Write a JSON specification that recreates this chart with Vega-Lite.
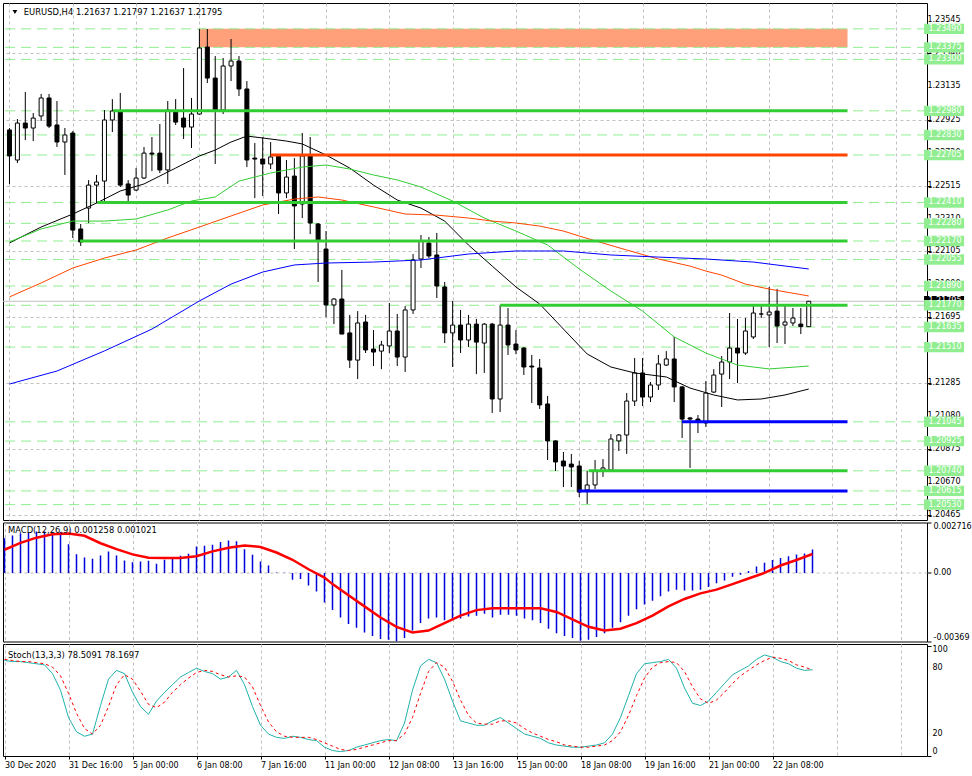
{
"$schema":"https://vega.github.io/schema/vega-lite/v6.json",
"background":"white",
"padding":{"left":2,"top":2,"right":0,"bottom":0},
"spacing":2.5,
"bounds":"flush",
"config":{"view":{"stroke":"black","strokeWidth":1},"axis":{"labelFont":"DejaVu Sans","labelFontSize":8,"labelColor":"black"},"text":{"font":"DejaVu Sans","fontSize":8}},
"datasets":{
"candles":[
{"i":0,"o":1.22861,"h":1.22873,"l":1.22525,"c":1.22699},
{"i":1,"o":1.22674,"h":1.22929,"l":1.22655,"c":1.22904},
{"i":2,"o":1.22904,"h":1.23097,"l":1.22798,"c":1.22873},
{"i":3,"o":1.22873,"h":1.22966,"l":1.22792,"c":1.22935},
{"i":4,"o":1.22948,"h":1.23085,"l":1.22917,"c":1.2306},
{"i":5,"o":1.2306,"h":1.23085,"l":1.22873,"c":1.22885},
{"i":6,"o":1.22892,"h":1.23041,"l":1.22755,"c":1.22786},
{"i":7,"o":1.22786,"h":1.22873,"l":1.22581,"c":1.2283},
{"i":8,"o":1.22842,"h":1.22854,"l":1.22189,"c":1.22238},
{"i":9,"o":1.22245,"h":1.22276,"l":1.22139,"c":1.22164},
{"i":10,"o":1.22375,"h":1.22549,"l":1.22282,"c":1.22518},
{"i":11,"o":1.22518,"h":1.22581,"l":1.22406,"c":1.22537},
{"i":12,"o":1.22543,"h":1.22985,"l":1.22406,"c":1.22923},
{"i":13,"o":1.22923,"h":1.23053,"l":1.22848,"c":1.22979},
{"i":14,"o":1.22979,"h":1.23091,"l":1.22506,"c":1.22518},
{"i":15,"o":1.22525,"h":1.22549,"l":1.224,"c":1.22456},
{"i":16,"o":1.22487,"h":1.22624,"l":1.22481,"c":1.22562},
{"i":17,"o":1.22562,"h":1.22755,"l":1.22556,"c":1.22717},
{"i":18,"o":1.22717,"h":1.22817,"l":1.22605,"c":1.22711},
{"i":19,"o":1.22717,"h":1.22898,"l":1.22593,"c":1.22612},
{"i":20,"o":1.22612,"h":1.23041,"l":1.22525,"c":1.22985},
{"i":21,"o":1.22979,"h":1.23053,"l":1.22892,"c":1.2291},
{"i":22,"o":1.22935,"h":1.23246,"l":1.22805,"c":1.22879},
{"i":23,"o":1.22879,"h":1.2306,"l":1.22749,"c":1.2296},
{"i":24,"o":1.2296,"h":1.23489,"l":1.22955,"c":1.23371},
{"i":25,"o":1.23377,"h":1.23489,"l":1.23153,"c":1.23184},
{"i":26,"o":1.23184,"h":1.23321,"l":1.22649,"c":1.22985},
{"i":27,"o":1.22985,"h":1.23309,"l":1.2296,"c":1.23259},
{"i":28,"o":1.23259,"h":1.23427,"l":1.23165,"c":1.2329},
{"i":29,"o":1.2329,"h":1.23321,"l":1.23072,"c":1.23116},
{"i":30,"o":1.23116,"h":1.23165,"l":1.2263,"c":1.22674},
{"i":31,"o":1.22686,"h":1.2278,"l":1.22437,"c":1.2268},
{"i":32,"o":1.2268,"h":1.22817,"l":1.2245,"c":1.22649},
{"i":33,"o":1.22649,"h":1.22786,"l":1.22618,"c":1.22693},
{"i":34,"o":1.22699,"h":1.22705,"l":1.22338,"c":1.22469},
{"i":35,"o":1.22469,"h":1.22674,"l":1.22437,"c":1.22568},
{"i":36,"o":1.22574,"h":1.22686,"l":1.2212,"c":1.22388},
{"i":37,"o":1.224,"h":1.22842,"l":1.22313,"c":1.22699},
{"i":38,"o":1.22699,"h":1.22817,"l":1.22213,"c":1.22282},
{"i":39,"o":1.22276,"h":1.22282,"l":1.21915,"c":1.22176},
{"i":40,"o":1.2212,"h":1.22232,"l":1.21697,"c":1.21772},
{"i":41,"o":1.21772,"h":1.21815,"l":1.21653,"c":1.21809},
{"i":42,"o":1.21809,"h":1.2199,"l":1.21591,"c":1.21591},
{"i":43,"o":1.21598,"h":1.2171,"l":1.2138,"c":1.21429},
{"i":44,"o":1.21429,"h":1.21734,"l":1.21311,"c":1.2166},
{"i":45,"o":1.21666,"h":1.2171,"l":1.21473,"c":1.21492},
{"i":46,"o":1.21498,"h":1.21616,"l":1.21392,"c":1.21479},
{"i":47,"o":1.21485,"h":1.21548,"l":1.21373,"c":1.21523},
{"i":48,"o":1.21517,"h":1.21784,"l":1.21473,"c":1.2161},
{"i":49,"o":1.2161,"h":1.21716,"l":1.21392,"c":1.21448},
{"i":50,"o":1.21448,"h":1.21765,"l":1.21355,"c":1.21741},
{"i":51,"o":1.21741,"h":1.22089,"l":1.21716,"c":1.22052},
{"i":52,"o":1.22058,"h":1.22207,"l":1.22002,"c":1.2217},
{"i":53,"o":1.22157,"h":1.22195,"l":1.22064,"c":1.22077},
{"i":54,"o":1.22083,"h":1.2222,"l":1.21815,"c":1.2189},
{"i":55,"o":1.21884,"h":1.21915,"l":1.21535,"c":1.21598},
{"i":56,"o":1.21598,"h":1.21797,"l":1.21386,"c":1.21647},
{"i":57,"o":1.21647,"h":1.21741,"l":1.21473,"c":1.21554},
{"i":58,"o":1.21554,"h":1.2171,"l":1.2151,"c":1.21653},
{"i":59,"o":1.21653,"h":1.21685,"l":1.21342,"c":1.21541},
{"i":60,"o":1.21535,"h":1.2166,"l":1.21349,"c":1.21653},
{"i":61,"o":1.21653,"h":1.2166,"l":1.211,"c":1.21187},
{"i":62,"o":1.21187,"h":1.21772,"l":1.21106,"c":1.21647},
{"i":63,"o":1.21647,"h":1.21753,"l":1.21461,"c":1.21523},
{"i":64,"o":1.21529,"h":1.21616,"l":1.21467,"c":1.21492},
{"i":65,"o":1.21504,"h":1.2151,"l":1.21336,"c":1.21386},
{"i":66,"o":1.21392,"h":1.21461,"l":1.21162,"c":1.21386},
{"i":67,"o":1.2138,"h":1.21436,"l":1.21125,"c":1.2115},
{"i":68,"o":1.21156,"h":1.21206,"l":1.20807,"c":1.20926},
{"i":69,"o":1.20926,"h":1.2093,"l":1.20739,"c":1.20795},
{"i":70,"o":1.20801,"h":1.20857,"l":1.20639,"c":1.2077},
{"i":71,"o":1.20782,"h":1.20845,"l":1.20639,"c":1.20764},
{"i":72,"o":1.2077,"h":1.20801,"l":1.20577,"c":1.20608},
{"i":73,"o":1.20621,"h":1.20739,"l":1.20534,"c":1.20652},
{"i":74,"o":1.20652,"h":1.20807,"l":1.20627,"c":1.20739},
{"i":75,"o":1.20739,"h":1.20813,"l":1.20702,"c":1.20758},
{"i":76,"o":1.20745,"h":1.20969,"l":1.20739,"c":1.20938},
{"i":77,"o":1.20926,"h":1.20969,"l":1.20863,"c":1.20963},
{"i":78,"o":1.20963,"h":1.21224,"l":1.20845,"c":1.21174},
{"i":79,"o":1.21174,"h":1.21442,"l":1.21143,"c":1.21349},
{"i":80,"o":1.21349,"h":1.21442,"l":1.21143,"c":1.21199},
{"i":81,"o":1.21199,"h":1.21293,"l":1.21168,"c":1.21274},
{"i":82,"o":1.21274,"h":1.21461,"l":1.21243,"c":1.21405},
{"i":83,"o":1.21398,"h":1.21485,"l":1.21392,"c":1.21436},
{"i":84,"o":1.21436,"h":1.21573,"l":1.21168,"c":1.21262},
{"i":85,"o":1.21262,"h":1.21268,"l":1.20944,"c":1.21062},
{"i":86,"o":1.21069,"h":1.21075,"l":1.20758,"c":1.21062},
{"i":87,"o":1.21062,"h":1.21087,"l":1.20975,"c":1.2105},
{"i":88,"o":1.21038,"h":1.21299,"l":1.21013,"c":1.21224},
{"i":89,"o":1.2123,"h":1.21373,"l":1.21224,"c":1.21336},
{"i":90,"o":1.21342,"h":1.21454,"l":1.21137,"c":1.21417},
{"i":91,"o":1.21417,"h":1.21722,"l":1.21311,"c":1.21504},
{"i":92,"o":1.21504,"h":1.21685,"l":1.21286,"c":1.21473},
{"i":93,"o":1.21473,"h":1.21691,"l":1.21461,"c":1.2161},
{"i":94,"o":1.21573,"h":1.21772,"l":1.2156,"c":1.21722},
{"i":95,"o":1.21716,"h":1.21772,"l":1.21691,"c":1.21716},
{"i":96,"o":1.2171,"h":1.21884,"l":1.2151,"c":1.21728},
{"i":97,"o":1.21734,"h":1.21872,"l":1.21535,"c":1.21641},
{"i":98,"o":1.21647,"h":1.21778,"l":1.21529,"c":1.21666},
{"i":99,"o":1.2166,"h":1.21753,"l":1.21641,"c":1.21691},
{"i":100,"o":1.21653,"h":1.21753,"l":1.21591,"c":1.21637},
{"i":101,"o":1.21637,"h":1.21797,"l":1.21637,"c":1.21795}
],
"ma":[
{"i":0,"s":"ma1","v":1.22158},{"i":4,"s":"ma1","v":1.22257},{"i":8,"s":"ma1","v":1.22338},{"i":11,"s":"ma1","v":1.22406},{"i":14,"s":"ma1","v":1.22481},{"i":17,"s":"ma1","v":1.22525},{"i":21,"s":"ma1","v":1.22624},{"i":24,"s":"ma1","v":1.22699},{"i":26,"s":"ma1","v":1.22736},{"i":28,"s":"ma1","v":1.22786},{"i":30,"s":"ma1","v":1.22823},{"i":32,"s":"ma1","v":1.22811},{"i":35,"s":"ma1","v":1.22792},{"i":37,"s":"ma1","v":1.22774},{"i":40,"s":"ma1","v":1.22705},{"i":43,"s":"ma1","v":1.22624},{"i":46,"s":"ma1","v":1.22518},{"i":49,"s":"ma1","v":1.22425},{"i":52,"s":"ma1","v":1.22375},{"i":55,"s":"ma1","v":1.22294},{"i":58,"s":"ma1","v":1.22145},{"i":61,"s":"ma1","v":1.22014},{"i":64,"s":"ma1","v":1.21884},{"i":67,"s":"ma1","v":1.21778},{"i":70,"s":"ma1","v":1.21622},{"i":73,"s":"ma1","v":1.21467},{"i":76,"s":"ma1","v":1.21386},{"i":79,"s":"ma1","v":1.21349},{"i":83,"s":"ma1","v":1.21324},{"i":86,"s":"ma1","v":1.21255},{"i":89,"s":"ma1","v":1.21212},{"i":92,"s":"ma1","v":1.21181},{"i":95,"s":"ma1","v":1.21187},{"i":98,"s":"ma1","v":1.21212},{"i":101,"s":"ma1","v":1.21249},
{"i":0,"s":"ma2","v":1.22164},{"i":4,"s":"ma2","v":1.22245},{"i":8,"s":"ma2","v":1.22294},{"i":12,"s":"ma2","v":1.22294},{"i":16,"s":"ma2","v":1.22307},{"i":20,"s":"ma2","v":1.22363},{"i":23,"s":"ma2","v":1.22419},{"i":26,"s":"ma2","v":1.22444},{"i":29,"s":"ma2","v":1.22543},{"i":33,"s":"ma2","v":1.22593},{"i":37,"s":"ma2","v":1.2263},{"i":40,"s":"ma2","v":1.22643},{"i":43,"s":"ma2","v":1.22618},{"i":46,"s":"ma2","v":1.22581},{"i":49,"s":"ma2","v":1.2255},{"i":52,"s":"ma2","v":1.22506},{"i":56,"s":"ma2","v":1.22419},{"i":60,"s":"ma2","v":1.22313},{"i":64,"s":"ma2","v":1.22232},{"i":68,"s":"ma2","v":1.22145},{"i":72,"s":"ma2","v":1.21996},{"i":76,"s":"ma2","v":1.21859},{"i":80,"s":"ma2","v":1.21734},{"i":84,"s":"ma2","v":1.21573},{"i":88,"s":"ma2","v":1.21473},{"i":92,"s":"ma2","v":1.21398},{"i":96,"s":"ma2","v":1.21374},{"i":101,"s":"ma2","v":1.21392},
{"i":0,"s":"ma3","v":1.21822},{"i":4,"s":"ma3","v":1.21909},{"i":8,"s":"ma3","v":1.22002},{"i":12,"s":"ma3","v":1.22064},{"i":16,"s":"ma3","v":1.22114},{"i":20,"s":"ma3","v":1.22189},{"i":24,"s":"ma3","v":1.22257},{"i":28,"s":"ma3","v":1.22326},{"i":32,"s":"ma3","v":1.22394},{"i":36,"s":"ma3","v":1.22431},{"i":39,"s":"ma3","v":1.22444},{"i":42,"s":"ma3","v":1.22425},{"i":46,"s":"ma3","v":1.22382},{"i":50,"s":"ma3","v":1.22338},{"i":54,"s":"ma3","v":1.22331},{"i":58,"s":"ma3","v":1.22313},{"i":61,"s":"ma3","v":1.22294},{"i":64,"s":"ma3","v":1.22282},{"i":67,"s":"ma3","v":1.22263},{"i":70,"s":"ma3","v":1.22232},{"i":72,"s":"ma3","v":1.22201},{"i":75,"s":"ma3","v":1.22157},{"i":78,"s":"ma3","v":1.22114},{"i":82,"s":"ma3","v":1.22058},{"i":86,"s":"ma3","v":1.22014},{"i":88,"s":"ma3","v":1.21983},{"i":90,"s":"ma3","v":1.21958},{"i":93,"s":"ma3","v":1.21902},{"i":96,"s":"ma3","v":1.21871},{"i":101,"s":"ma3","v":1.21828},
{"i":0,"s":"ma4","v":1.2128},{"i":6,"s":"ma4","v":1.21361},{"i":12,"s":"ma4","v":1.21486},{"i":18,"s":"ma4","v":1.21622},{"i":24,"s":"ma4","v":1.21797},{"i":28,"s":"ma4","v":1.21902},{"i":32,"s":"ma4","v":1.21977},{"i":36,"s":"ma4","v":1.22021},{"i":40,"s":"ma4","v":1.22033},{"i":46,"s":"ma4","v":1.22039},{"i":52,"s":"ma4","v":1.22052},{"i":58,"s":"ma4","v":1.22089},{"i":64,"s":"ma4","v":1.22108},{"i":70,"s":"ma4","v":1.22108},{"i":76,"s":"ma4","v":1.22083},{"i":82,"s":"ma4","v":1.2207},{"i":88,"s":"ma4","v":1.22058},{"i":94,"s":"ma4","v":1.22039},{"i":101,"s":"ma4","v":1.21996}
],
"ticks":[{"t":1.23545},{"t":1.2334},{"t":1.23135},{"t":1.22925},{"t":1.2272},{"t":1.22515},{"t":1.2231},{"t":1.22105},{"t":1.219},{"t":1.21695},{"t":1.2149},{"t":1.21285},{"t":1.2108},{"t":1.20875},{"t":1.2067},{"t":1.20465}],
"levels":[{"p":1.2349},{"p":1.23375},{"p":1.233},{"p":1.2298},{"p":1.2283},{"p":1.22705},{"p":1.2241},{"p":1.2228},{"p":1.2217},{"p":1.22055},{"p":1.2189},{"p":1.2177},{"p":1.21635},{"p":1.2151},{"p":1.21045},{"p":1.20925},{"p":1.2074},{"p":1.20615},{"p":1.2053}],
"trend":[{"a":13.1,"b":105.9,"p":1.2298,"g":"A"},{"a":33,"b":105.9,"p":1.22705,"g":"B"},{"a":11.1,"b":105.9,"p":1.2241,"g":"A"},{"a":8.9,"b":105.9,"p":1.2217,"g":"A"},{"a":62,"b":105.9,"p":1.2177,"g":"A"},{"a":85,"b":105.9,"p":1.21045,"g":"C"},{"a":73.2,"b":105.9,"p":1.2074,"g":"A"},{"a":71.9,"b":105.9,"p":1.20615,"g":"C"}],
"zone":[{"a":24,"b":105.9,"p0":1.23375,"p1":1.2349}],
"macd":[
{"i":0,"m":0.00187},{"i":1,"m":0.00202},{"i":2,"m":0.00214},{"i":3,"m":0.00218},{"i":4,"m":0.00223},{"i":5,"m":0.00223},{"i":6,"m":0.00221},{"i":7,"m":0.00221},{"i":8,"m":0.00155},{"i":9,"m":0.00101},{"i":10,"m":0.00083},{"i":11,"m":0.00076},{"i":12,"m":0.00094},{"i":13,"m":0.00116},{"i":14,"m":0.00094},{"i":15,"m":0.00067},{"i":16,"m":0.00058},{"i":17,"m":0.00062},{"i":18,"m":0.00066},{"i":19,"m":0.0005},{"i":20,"m":0.00071},{"i":21,"m":0.00085},{"i":22,"m":0.00093},{"i":23,"m":0.00103},{"i":24,"m":0.00143},{"i":25,"m":0.00146},{"i":26,"m":0.00152},{"i":27,"m":0.00166},{"i":28,"m":0.00175},{"i":29,"m":0.0017},{"i":30,"m":0.00128},{"i":31,"m":0.00098},{"i":32,"m":0.00062},{"i":33,"m":0.0004},{"i":34,"m":0.00003},{"i":35,"m":0.00001},{"i":36,"m":-0.00037},{"i":37,"m":-0.00033},{"i":38,"m":-0.00067},{"i":39,"m":-0.001},{"i":40,"m":-0.00159},
{"i":41,"m":-0.002},{"i":42,"m":-0.0024},{"i":43,"m":-0.00275},{"i":44,"m":-0.00295},{"i":45,"m":-0.0032},{"i":46,"m":-0.0034},{"i":47,"m":-0.00355},{"i":48,"m":-0.0036},{"i":49,"m":-0.00369},{"i":50,"m":-0.0035},{"i":51,"m":-0.0031},{"i":52,"m":-0.0027},{"i":53,"m":-0.00245},{"i":54,"m":-0.0024},{"i":55,"m":-0.00255},{"i":56,"m":-0.0025},{"i":57,"m":-0.00245},{"i":58,"m":-0.00235},{"i":59,"m":-0.0023},{"i":60,"m":-0.0022},{"i":61,"m":-0.0024},{"i":62,"m":-0.00225},{"i":63,"m":-0.00225},{"i":64,"m":-0.0023},{"i":65,"m":-0.00245},{"i":66,"m":-0.00255},{"i":67,"m":-0.0027},{"i":68,"m":-0.003},{"i":69,"m":-0.00325},{"i":70,"m":-0.0034},{"i":71,"m":-0.0035},{"i":72,"m":-0.00365},{"i":73,"m":-0.0036},{"i":74,"m":-0.00345},{"i":75,"m":-0.00325},{"i":76,"m":-0.00295},{"i":77,"m":-0.00265},{"i":78,"m":-0.0023},{"i":79,"m":-0.00195},{"i":80,"m":-0.0017},{"i":81,"m":-0.0015},{"i":82,"m":-0.00125},{"i":83,"m":-0.001},{"i":84,"m":-0.0009},{"i":85,"m":-0.00095},{"i":86,"m":-0.00095},{"i":87,"m":-0.0009},{"i":88,"m":-0.00075},{"i":89,"m":-0.00055},{"i":90,"m":-0.0004},{"i":91,"m":-0.0002},{"i":92,"m":-0.0001},{"i":93,"m":0.0001},{"i":94,"m":0.00035},{"i":95,"m":0.00055},{"i":96,"m":0.0007},{"i":97,"m":0.0008},{"i":98,"m":0.0009},{"i":99,"m":0.001},{"i":100,"m":0.00105},{"i":101,"m":0.001258}
],
"signal":[
{"i":0,"v":0.00125},{"i":2,"v":0.00162},{"i":4,"v":0.0019},{"i":6,"v":0.00208},{"i":8,"v":0.00212},{"i":10,"v":0.002},{"i":12,"v":0.0016},{"i":14,"v":0.00128},{"i":16,"v":0.001},{"i":18,"v":0.00082},{"i":20,"v":0.0008},{"i":22,"v":0.0008},{"i":24,"v":0.0009},{"i":26,"v":0.00116},{"i":28,"v":0.00136},{"i":30,"v":0.00148},{"i":32,"v":0.0014},{"i":34,"v":0.0011},{"i":36,"v":0.00071},{"i":38,"v":0.0002},{"i":40,"v":-0.00025},{"i":41,"v":-0.0006},{"i":43,"v":-0.0012},{"i":45,"v":-0.0018},{"i":47,"v":-0.0024},{"i":49,"v":-0.0029},{"i":51,"v":-0.0032},{"i":53,"v":-0.0031},{"i":55,"v":-0.0027},{"i":57,"v":-0.0023},{"i":59,"v":-0.002},{"i":61,"v":-0.0019},{"i":63,"v":-0.0019},{"i":65,"v":-0.0019},{"i":67,"v":-0.0019},{"i":69,"v":-0.0021},{"i":71,"v":-0.0025},{"i":73,"v":-0.0029},{"i":75,"v":-0.0031},{"i":77,"v":-0.003},{"i":79,"v":-0.0027},{"i":81,"v":-0.0023},{"i":83,"v":-0.0018},{"i":85,"v":-0.0014},{"i":87,"v":-0.0011},{"i":89,"v":-0.0009},{"i":91,"v":-0.0006},{"i":93,"v":-0.0003},{"i":95,"v":0},{"i":97,"v":0.0004},{"i":99,"v":0.0007},{"i":101,"v":0.00102}
],
"stoch":[
{"i":0,"k":87,"d":88},{"i":1,"k":86,"d":87},{"i":2,"k":86,"d":86},{"i":3,"k":85,"d":86},{"i":4,"k":84,"d":85},{"i":5,"k":83,"d":84},{"i":6,"k":75,"d":81},{"i":7,"k":60,"d":73},{"i":8,"k":35,"d":57},{"i":9,"k":22,"d":39},{"i":10,"k":18,"d":25},{"i":11,"k":20,"d":20},{"i":12,"k":46,"d":28},{"i":13,"k":70,"d":45},{"i":14,"k":78,"d":65},{"i":15,"k":75,"d":74},{"i":16,"k":58,"d":70},{"i":17,"k":45,"d":59},{"i":18,"k":38,"d":47},{"i":19,"k":50,"d":44},{"i":20,"k":58,"d":49},{"i":21,"k":65,"d":58},{"i":22,"k":72,"d":65},{"i":23,"k":76,"d":71},{"i":24,"k":80,"d":76},{"i":25,"k":77,"d":78},{"i":26,"k":75,"d":77},{"i":27,"k":70,"d":74},{"i":28,"k":72,"d":72},{"i":29,"k":78,"d":73},{"i":30,"k":65,"d":72},{"i":31,"k":45,"d":63},{"i":32,"k":28,"d":46},{"i":33,"k":20,"d":31},{"i":34,"k":17,"d":22},{"i":35,"k":16,"d":18},{"i":36,"k":18,"d":17},{"i":37,"k":17,"d":17},{"i":38,"k":15,"d":17},{"i":39,"k":14,"d":15},{"i":40,"k":8,"d":12},{"i":41,"k":5,"d":9},{"i":42,"k":4,"d":6},{"i":43,"k":5,"d":5},{"i":44,"k":8,"d":6},{"i":45,"k":10,"d":8},{"i":46,"k":12,"d":10},{"i":47,"k":14,"d":12},{"i":48,"k":15,"d":14},{"i":49,"k":14,"d":14},{"i":50,"k":30,"d":20},{"i":51,"k":60,"d":35},{"i":52,"k":82,"d":57},{"i":53,"k":88,"d":77},{"i":54,"k":85,"d":85},{"i":55,"k":70,"d":81},{"i":56,"k":50,"d":68},{"i":57,"k":32,"d":51},{"i":58,"k":30,"d":37},{"i":59,"k":28,"d":30},{"i":60,"k":28,"d":29},{"i":61,"k":32,"d":29},{"i":62,"k":35,"d":32},{"i":63,"k":30,"d":32},{"i":64,"k":25,"d":30},{"i":65,"k":20,"d":25},{"i":66,"k":18,"d":21},{"i":67,"k":16,"d":18},{"i":68,"k":12,"d":15},{"i":69,"k":10,"d":13},{"i":70,"k":9,"d":10},{"i":71,"k":8,"d":9},{"i":72,"k":8,"d":8},{"i":73,"k":9,"d":8},{"i":74,"k":10,"d":9},{"i":75,"k":12,"d":10},{"i":76,"k":20,"d":14},{"i":77,"k":35,"d":22},{"i":78,"k":55,"d":37},{"i":79,"k":75,"d":55},{"i":80,"k":84,"d":71},{"i":81,"k":85,"d":81},{"i":82,"k":86,"d":85},{"i":83,"k":88,"d":86},{"i":84,"k":80,"d":85},{"i":85,"k":62,"d":77},{"i":86,"k":48,"d":63},{"i":87,"k":46,"d":52},{"i":88,"k":50,"d":48},{"i":89,"k":58,"d":51},{"i":90,"k":66,"d":58},{"i":91,"k":74,"d":66},{"i":92,"k":78,"d":73},{"i":93,"k":82,"d":78},{"i":94,"k":88,"d":83},{"i":95,"k":92,"d":87},{"i":96,"k":90,"d":90},{"i":97,"k":86,"d":89},{"i":98,"k":84,"d":87},{"i":99,"k":80,"d":83},{"i":100,"k":78,"d":81},{"i":101,"k":78.5,"d":78.2}
]
},
"vconcat":[
{
"width":924,"height":517,
"resolve":{"scale":{"color":"independent"}},
"layer":[
{"data":{"name":"zone"},"mark":{"type":"rect","color":"#ffa07a","clip":true},
"encoding":{
"x":{"field":"a","type":"quantitative","scale":{"domain":[-0.1875,115.3125],"nice":false,"zero":false},"axis":{"orient":"bottom","title":null,"values":[0,4,8,12,16,20,24,28,32,36,40,44,48,52,56,60,64,68,72,76,80,84,88,92,96,100,104,108,112],"labels":false,"ticks":false,"domain":false,"grid":true,"gridColor":"#c0c0c0","gridDash":[3,3]}},
"x2":{"field":"b"},
"y":{"field":"p0","type":"quantitative","scale":{"domain":[1.20434,1.23651],"nice":false,"zero":false},"axis":{"orient":"right","title":null,"values":[1.23545,1.2334,1.23135,1.22925,1.2272,1.22515,1.2231,1.22105,1.219,1.21695,1.2149,1.21285,1.2108,1.20875,1.2067,1.20465],"labels":false,"grid":true,"gridColor":"#c0c0c0","gridDash":[3,3],"domain":false,"tickColor":"black","tickSize":4}},
"y2":{"field":"p1"}}},
{"data":{"name":"levels"},"mark":{"type":"rule","color":"#90ee90","strokeDash":[10,6],"strokeWidth":1},"encoding":{"y":{"field":"p","type":"quantitative"}}},
{"data":{"values":[{"p":1.21795}]},"mark":{"type":"rule","color":"#c0c0c0","strokeWidth":1},"encoding":{"y":{"field":"p","type":"quantitative"}}},
{"data":{"name":"candles"},"mark":{"type":"rule","color":"black","strokeWidth":1,"clip":true},"encoding":{"x":{"field":"i","type":"quantitative"},"y":{"field":"l","type":"quantitative"},"y2":{"field":"h"}}},
{"data":{"name":"candles"},"mark":{"type":"bar","size":4,"stroke":"black","strokeWidth":1,"clip":true},"encoding":{"x":{"field":"i","type":"quantitative"},"y":{"field":"o","type":"quantitative"},"y2":{"field":"c"},"fill":{"condition":{"test":"datum.c >= datum.o","value":"white"},"value":"black"}}},
{"data":{"name":"ma"},"mark":{"type":"line","strokeWidth":1,"clip":true},"encoding":{"x":{"field":"i","type":"quantitative"},"y":{"field":"v","type":"quantitative"},"color":{"field":"s","type":"nominal","scale":{"domain":["ma1","ma2","ma3","ma4"],"range":["black","#32cd32","#ff4500","#0000ff"]},"legend":null}}},
{"data":{"name":"trend"},"mark":{"type":"rule","strokeWidth":3,"clip":true},"encoding":{"x":{"field":"a","type":"quantitative"},"x2":{"field":"b"},"y":{"field":"p","type":"quantitative"},"color":{"field":"g","type":"nominal","scale":{"domain":["A","B","C"],"range":["#32cd32","#ff4500","#0000ff"]},"legend":null}}},
{"data":{"values":[{}]},"mark":{"type":"point","shape":"triangle-down","filled":true,"color":"black","size":22,"opacity":1},"encoding":{"x":{"datum":0.6875,"type":"quantitative"},"y":{"datum":1.23595,"type":"quantitative"}}},
{"data":{"values":[{}]},"mark":{"type":"text","align":"left","baseline":"middle","fontSize":8.4,"color":"black"},"encoding":{"x":{"datum":1.8125,"type":"quantitative"},"y":{"datum":1.23595,"type":"quantitative"},"text":{"value":"EURUSD,H4  1.21637 1.21797 1.21637 1.21795"}}},
{"data":{"name":"ticks"},"mark":{"type":"text","align":"left","baseline":"middle","color":"black","clip":false},"encoding":{"x":{"datum":116.0,"type":"quantitative"},"y":{"field":"t","type":"quantitative"},"text":{"field":"t","format":".5f"}}},
{"data":{"values":[{"p":1.21795}]},"mark":{"type":"point","shape":"M-1,-0.26H1V0.26H-1Z","size":1600,"filled":true,"color":"black","opacity":1,"clip":false},"encoding":{"x":{"datum":118.1,"type":"quantitative"},"y":{"field":"p","type":"quantitative"}}},
{"data":{"values":[{"p":1.21795}]},"mark":{"type":"text","align":"left","baseline":"middle","color":"white","clip":false},"encoding":{"x":{"datum":116.125,"type":"quantitative"},"y":{"field":"p","type":"quantitative"},"text":{"field":"p","format":".5f"}}},
{"data":{"name":"levels"},"mark":{"type":"point","shape":"M-1,-0.26H1V0.26H-1Z","size":1600,"filled":true,"color":"#90ee90","opacity":1,"clip":false},"encoding":{"x":{"datum":118.1,"type":"quantitative"},"y":{"field":"p","type":"quantitative"}}},
{"data":{"name":"levels"},"mark":{"type":"text","align":"left","baseline":"middle","color":"white","clip":false},"encoding":{"x":{"datum":116.125,"type":"quantitative"},"y":{"field":"p","type":"quantitative"},"text":{"field":"p","format":".5f"}}}
]
},
{
"width":924,"height":119,
"layer":[
{"data":{"name":"macd"},"mark":{"type":"rule","color":"#0000dd","strokeWidth":1.5,"clip":true},
"encoding":{
"x":{"field":"i","type":"quantitative","scale":{"domain":[-0.1875,115.3125],"nice":false,"zero":false},"axis":{"orient":"bottom","title":null,"values":[0,4,8,12,16,20,24,28,32,36,40,44,48,52,56,60,64,68,72,76,80,84,88,92,96,100,104,108,112],"labels":false,"ticks":false,"domain":false,"grid":true,"gridColor":"#c0c0c0","gridDash":[3,3]}},
"y":{"field":"m","type":"quantitative","scale":{"domain":[-0.00369,0.002716],"nice":false,"zero":false},"axis":{"orient":"right","title":null,"values":[-0.00369,0,0.002716],"labelExpr":"datum.value == 0 ? '0.00' : (datum.value > 0 ? '0.002716' : '-0.00369')","labelFlush":true,"grid":true,"gridColor":"#c0c0c0","gridDash":[3,3],"gridOpacity":{"condition":{"test":"datum.value == 0","value":1},"value":0},"domain":false,"tickColor":"black","tickSize":4,"labelPadding":2}},
"y2":{"datum":0}}},
{"data":{"name":"signal"},"mark":{"type":"line","color":"#ff0000","strokeWidth":2.5,"clip":true},"encoding":{"x":{"field":"i","type":"quantitative"},"y":{"field":"v","type":"quantitative"}}},
{"data":{"values":[{}]},"mark":{"type":"text","align":"left","baseline":"middle","fontSize":8.4,"color":"black"},"encoding":{"x":{"datum":0.4375,"type":"quantitative"},"y":{"datum":0.00231,"type":"quantitative"},"text":{"value":"MACD(12,26,9) 0.001258 0.001021"}}}
]
},
{
"width":924,"height":112,
"layer":[
{"data":{"name":"stoch"},"mark":{"type":"line","color":"#20b2aa","strokeWidth":1,"clip":true},
"encoding":{
"x":{"field":"i","type":"quantitative","scale":{"domain":[-0.1875,115.3125],"nice":false,"zero":false},"axis":{"orient":"bottom","title":null,"values":[0,4,8,12,16,20,24,28,32,36,40,44,48,52,56,60,64,68,72,76,80,84,88,92,96,100,104,108,112],"labelExpr":"(datum.value % 8 == 0 && datum.value <= 96) ? ['30 Dec 2020','31 Dec 16:00','5 Jan 00:00','6 Jan 08:00','7 Jan 16:00','11 Jan 00:00','12 Jan 08:00','13 Jan 16:00','15 Jan 00:00','18 Jan 08:00','19 Jan 16:00','21 Jan 00:00','22 Jan 08:00'][datum.value / 8] : ''","labelAlign":"left","labelPadding":2,"labelOverlap":false,"labelBound":false,"labelFlush":false,"tickSize":3,"tickColor":"black","tickOpacity":{"condition":{"test":"datum.value % 8 == 0 && datum.value <= 96","value":1},"value":0},"domain":false,"grid":true,"gridColor":"#c0c0c0","gridDash":[3,3]}},
"y":{"field":"k","type":"quantitative","scale":{"domain":[0,102],"nice":false,"zero":false},"axis":{"orient":"right","title":null,"values":[0,20,80,100],"labels":false,"grid":true,"gridColor":"#c0c0c0","gridDash":[3,3],"gridOpacity":{"condition":{"test":"datum.value == 20 || datum.value == 80","value":1},"value":0},"domain":false,"tickColor":"black","tickSize":4}}}},
{"data":{"name":"stoch"},"mark":{"type":"line","color":"#ff0000","strokeWidth":1,"strokeDash":[3,3],"clip":true},"encoding":{"x":{"field":"i","type":"quantitative"},"y":{"field":"d","type":"quantitative"}}},
{"data":{"values":[{}]},"mark":{"type":"text","align":"left","baseline":"middle","fontSize":8.4,"color":"black"},"encoding":{"x":{"datum":0.4375,"type":"quantitative"},"y":{"datum":92,"type":"quantitative"},"text":{"value":"Stoch(13,3,3) 78.5091 78.1697"}}},
{"data":{"values":[{"t":80},{"t":20}]},"mark":{"type":"text","align":"left","baseline":"middle","color":"black","clip":false},"encoding":{"x":{"datum":116.0,"type":"quantitative"},"y":{"field":"t","type":"quantitative"},"text":{"field":"t"}}},
{"data":{"values":[{"t":100}]},"mark":{"type":"text","align":"left","baseline":"top","color":"black","clip":false},"encoding":{"x":{"datum":116.0,"type":"quantitative"},"y":{"field":"t","type":"quantitative"},"text":{"field":"t"}}},
{"data":{"values":[{"t":0}]},"mark":{"type":"text","align":"left","baseline":"bottom","color":"black","clip":false},"encoding":{"x":{"datum":116.0,"type":"quantitative"},"y":{"field":"t","type":"quantitative"},"text":{"field":"t"}}}
]
}
]
}
